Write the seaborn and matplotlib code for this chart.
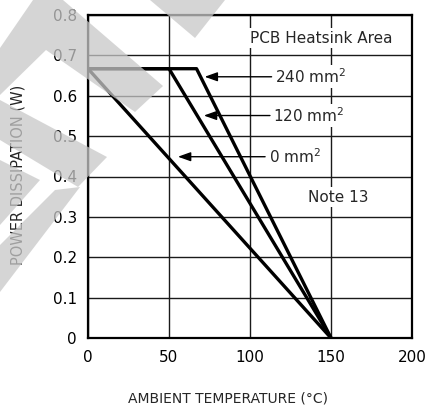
import numpy as np
import pandas as pd
import matplotlib
matplotlib.use("Agg")
import matplotlib.pyplot as plt
from matplotlib.patches import Polygon
import seaborn as sns

# derating curves: (temperature, power) breakpoints per heatsink area
areas = ['0 mm2', '120 mm2', '240 mm2']
temps = {'0 mm2': [0, 150], '120 mm2': [0, 50, 150], '240 mm2': [0, 67, 150]}
powers = {'0 mm2': [0.667, 0], '120 mm2': [0.667, 0.667, 0], '240 mm2': [0.667, 0.667, 0]}

# label callouts: text, text x, arrow tip x, y
callout_text = ['240 mm$^2$', '120 mm$^2$', '0 mm$^2$']
callout_tx = [115.5, 114.5, 111.5]
callout_tip = [72, 71.5, 55.5]
callout_y = [0.647, 0.551, 0.449]

x_ticks = [0, 50, 100, 150, 200]
y_ticks = [0, 0.1, 0.2, 0.3, 0.4, 0.5, 0.6, 0.7, 0.8]
y_tick_labels = ['0', '0.1', '0.2', '0.3', '0.4', '0.5', '0.6', '0.7', '0.8']

rows = []
for a in areas:
    for t, p in zip(temps[a], powers[a]):
        rows.append({'area': a, 'temp': t, 'power': p})
df = pd.DataFrame(rows)

sns.set_style('white')
plt.rcParams['font.family'] = ['DejaVu Sans']

fig = plt.figure(figsize=(4.35, 4.09), dpi=100)
ax = fig.add_axes([88 / 435, 1 - 338 / 409, 324 / 435, 323 / 409])

sns.lineplot(data=df, x='temp', y='power', units='area', estimator=None,
             sort=False, color='black', lw=2.4, ax=ax, legend=False)

ax.set_xlim(0, 200)
ax.set_ylim(0, 0.8)
ax.set_xticks(x_ticks)
ax.set_yticks(y_ticks)
ax.set_yticklabels(y_tick_labels)
ax.grid(True, color='#1a1a1a', lw=1.0)
ax.set_axisbelow(True)
for s in ax.spines.values():
    s.set_color('black')
    s.set_linewidth(1.6)
ax.tick_params(length=0, labelsize=11, colors='black')
ax.tick_params(axis='x', pad=9)
ax.tick_params(axis='y', pad=8)

ax.set_xlabel('AMBIENT TEMPERATURE (°C)', fontsize=10)
ax.set_ylabel('POWER DISSIPATION (W)', fontsize=10.5)
ax.xaxis.set_label_coords(0.432, -0.167)
ax.yaxis.set_label_coords(-0.194, 0.505)

box = dict(facecolor='white', edgecolor='none', pad=1.5)
for txt, tx, tip, y in zip(callout_text, callout_tx, callout_tip, callout_y):
    ax.annotate(txt, xy=(tip, y), xytext=(tx, y), ha='left', va='center',
                fontsize=11, bbox=box,
                arrowprops=dict(arrowstyle='-|>,head_length=0.7,head_width=0.25',
                                color='black', lw=1.0, shrinkA=1, shrinkB=0))

ax.text(143.8, 0.743, 'PCB Heatsink Area', ha='center', va='center',
        fontsize=11, bbox=box)
ax.text(154.3, 0.349, 'Note 13', ha='center', va='center', fontsize=11, bbox=box)

# watermark overlay (pixel coords)
wm_shapes = [
    [(0, 48), (33, 0), (63, 0), (163, 86), (135, 112), (46, 50), (0, 95)],
    [(0, 100), (107, 157), (78, 187), (0, 140)],
    [(0, 160), (40, 180), (0, 225)],
    [(0, 245), (55, 190), (80, 187), (0, 292)],
    [(150, 0), (225, 0), (195, 38)],
]
for pts in wm_shapes:
    xy = [(x / 435, 1 - y / 409) for x, y in pts]
    fig.add_artist(Polygon(xy, closed=True, transform=fig.transFigure,
                           facecolor='#c8c8c8', edgecolor='none', alpha=0.75,
                           zorder=10))

fig.savefig('out.png', dpi=100)
